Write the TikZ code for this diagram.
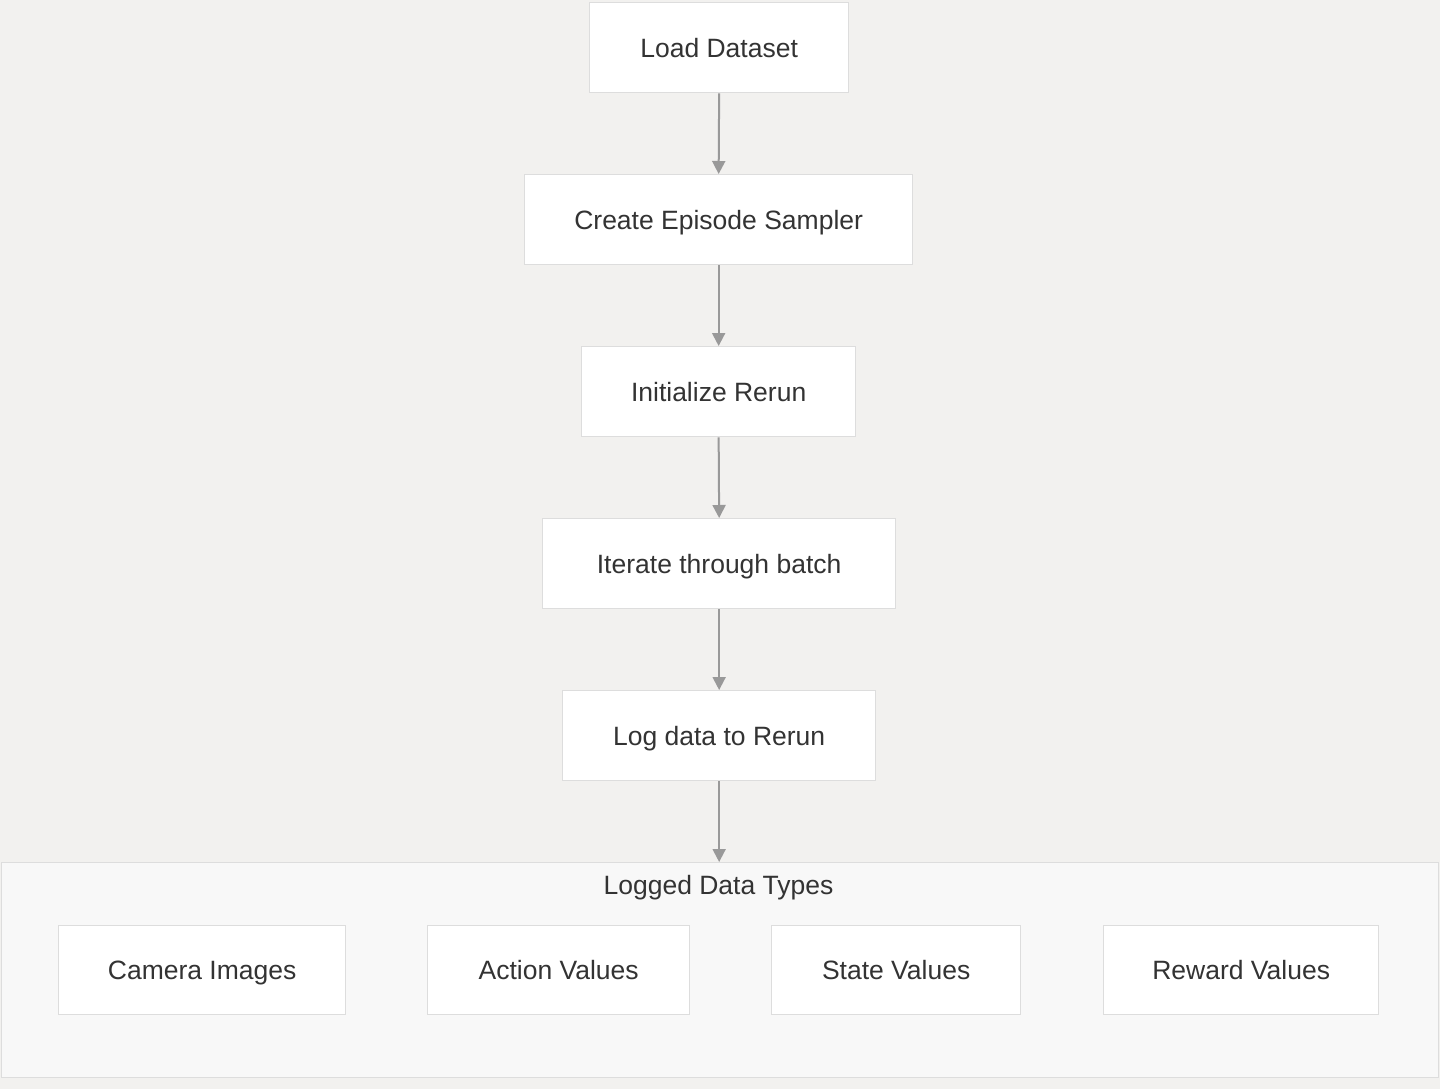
\documentclass[tikz,border=0pt]{standalone}
\usepackage{fontspec}
\setmainfont{Liberation Sans}
\usetikzlibrary{arrows.meta}
\definecolor{bgc}{HTML}{F2F1EF}
\definecolor{clc}{HTML}{F8F8F8}
\definecolor{bdc}{HTML}{DDDDDD}
\definecolor{arc}{HTML}{999999}
\definecolor{txc}{HTML}{333333}
\tikzset{
  box/.style={draw=bdc, line width=1.3pt, fill=white, anchor=north west, inner sep=0pt},
  lbl/.style={text=txc, font=\fontsize{26.5}{31}\selectfont, inner sep=0pt, text height=19pt, text depth=0pt},
  conn/.style={draw=arc, line width=2pt, -{Triangle[length=13pt,width=13pt]}},
}
\newcommand{\boxnode}[6]{% name, x1, y1, x2, y2, text
  \node[box, minimum width={#4-#2}, minimum height={#5-#3}] (#1) at (#2,#3) {};
  \node[lbl] (#1t) at (#1.center) {#6};
}
\begin{document}
\begin{tikzpicture}[x=1pt,y=-1pt]
\useasboundingbox (0,0) rectangle (1440,1089);
\fill[bgc] (0,0) rectangle (1440,1089);
\node[draw=bdc, fill=clc, line width=1.3pt, anchor=north west, inner sep=0pt, minimum width=1437, minimum height=215] (cl) at (1,862) {};
\node[lbl] (cltitle) at (718.5,885) {Logged Data Types};
\boxnode{a}{589}{2}{848}{92}{Load Dataset}
\boxnode{b}{524}{174}{912}{264}{Create Episode Sampler}
\boxnode{c}{581}{346}{855}{436}{Initialize Rerun}
\boxnode{d}{542}{518}{895}{608}{Iterate through batch}
\boxnode{e}{562}{690}{875}{780}{Log data to Rerun}
\boxnode{f}{58}{925}{345}{1014}{Camera Images}
\boxnode{g}{427}{925}{689}{1014}{Action Values}
\boxnode{h}{771}{925}{1020}{1014}{State Values}
\boxnode{i}{1103}{925}{1378}{1014}{Reward Values}
\draw[conn] (a.south) -- (b.north);
\draw[conn] (b.south) -- (c.north);
\draw[conn] (c.south) -- (d.north);
\draw[conn] (d.south) -- (e.north);
\draw[conn] (e.south) -- (e.south |- cl.north);
\end{tikzpicture}
\end{document}
